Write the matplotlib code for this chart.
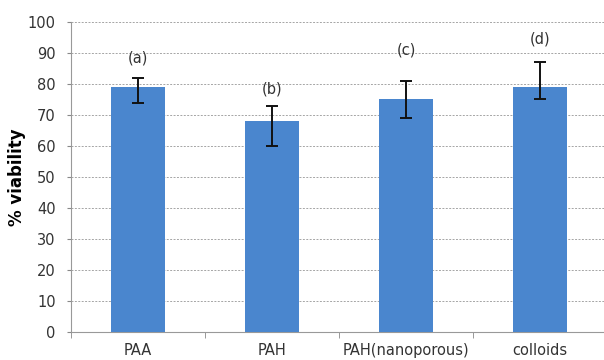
import matplotlib.pyplot as plt
from matplotlib.ticker import FixedLocator

samples = ['PAA', 'PAH', 'PAH(nanoporous)', 'colloids']
viability = [79, 68, 75, 79]
err_low = [5, 8, 6, 4]
err_high = [3, 5, 6, 8]
letters = ['(a)', '(b)', '(c)', '(d)']
letter_y = [88.5, 78.5, 91, 94.5]

fig = plt.figure(figsize=(6.04, 3.6), dpi=100)
ax = fig.add_axes([0.1175, 0.078, 0.8825, 0.861])

x = range(len(samples))
ax.bar(x, viability, width=0.4, color='#4A86CE', zorder=3)
ax.errorbar(x, viability, yerr=[err_low, err_high], fmt='none', ecolor='#111111',
            elinewidth=1.4, capsize=4, capthick=1.4, zorder=4)
for i in x:
    ax.text(i, letter_y[i], letters[i], ha='center', va='center', fontsize=10.5, color='#333333')

ax.set_ylim(0, 100)
ax.set_xlim(-0.5, 3.478)
ax.set_yticks(range(0, 101, 10))
ax.yaxis.grid(True, linestyle=(0, (2, 1.5)), color='#a5a5a5', linewidth=0.7, zorder=0)
ax.set_axisbelow(True)

ax.set_xticks(list(x))
ax.set_xticklabels(samples, fontsize=10.5, color='#333333')
ax.tick_params(axis='x', which='major', length=0, pad=8)
ax.xaxis.set_minor_locator(FixedLocator([-0.5, 0.5, 1.5, 2.5]))
ax.tick_params(axis='x', which='minor', length=4, color='#888888', direction='out')
ax.tick_params(axis='y', length=3, color='#888888', labelsize=10.5, labelcolor='#333333', pad=8)

for s in ['top', 'right']:
    ax.spines[s].set_visible(False)
ax.spines['left'].set_color('#999999')
ax.spines['bottom'].set_color('#999999')

ax.set_ylabel('% viability', fontsize=12, fontweight='bold')
ax.yaxis.set_label_coords(-0.084, 0.5)

plt.savefig('out.png', dpi=100)
